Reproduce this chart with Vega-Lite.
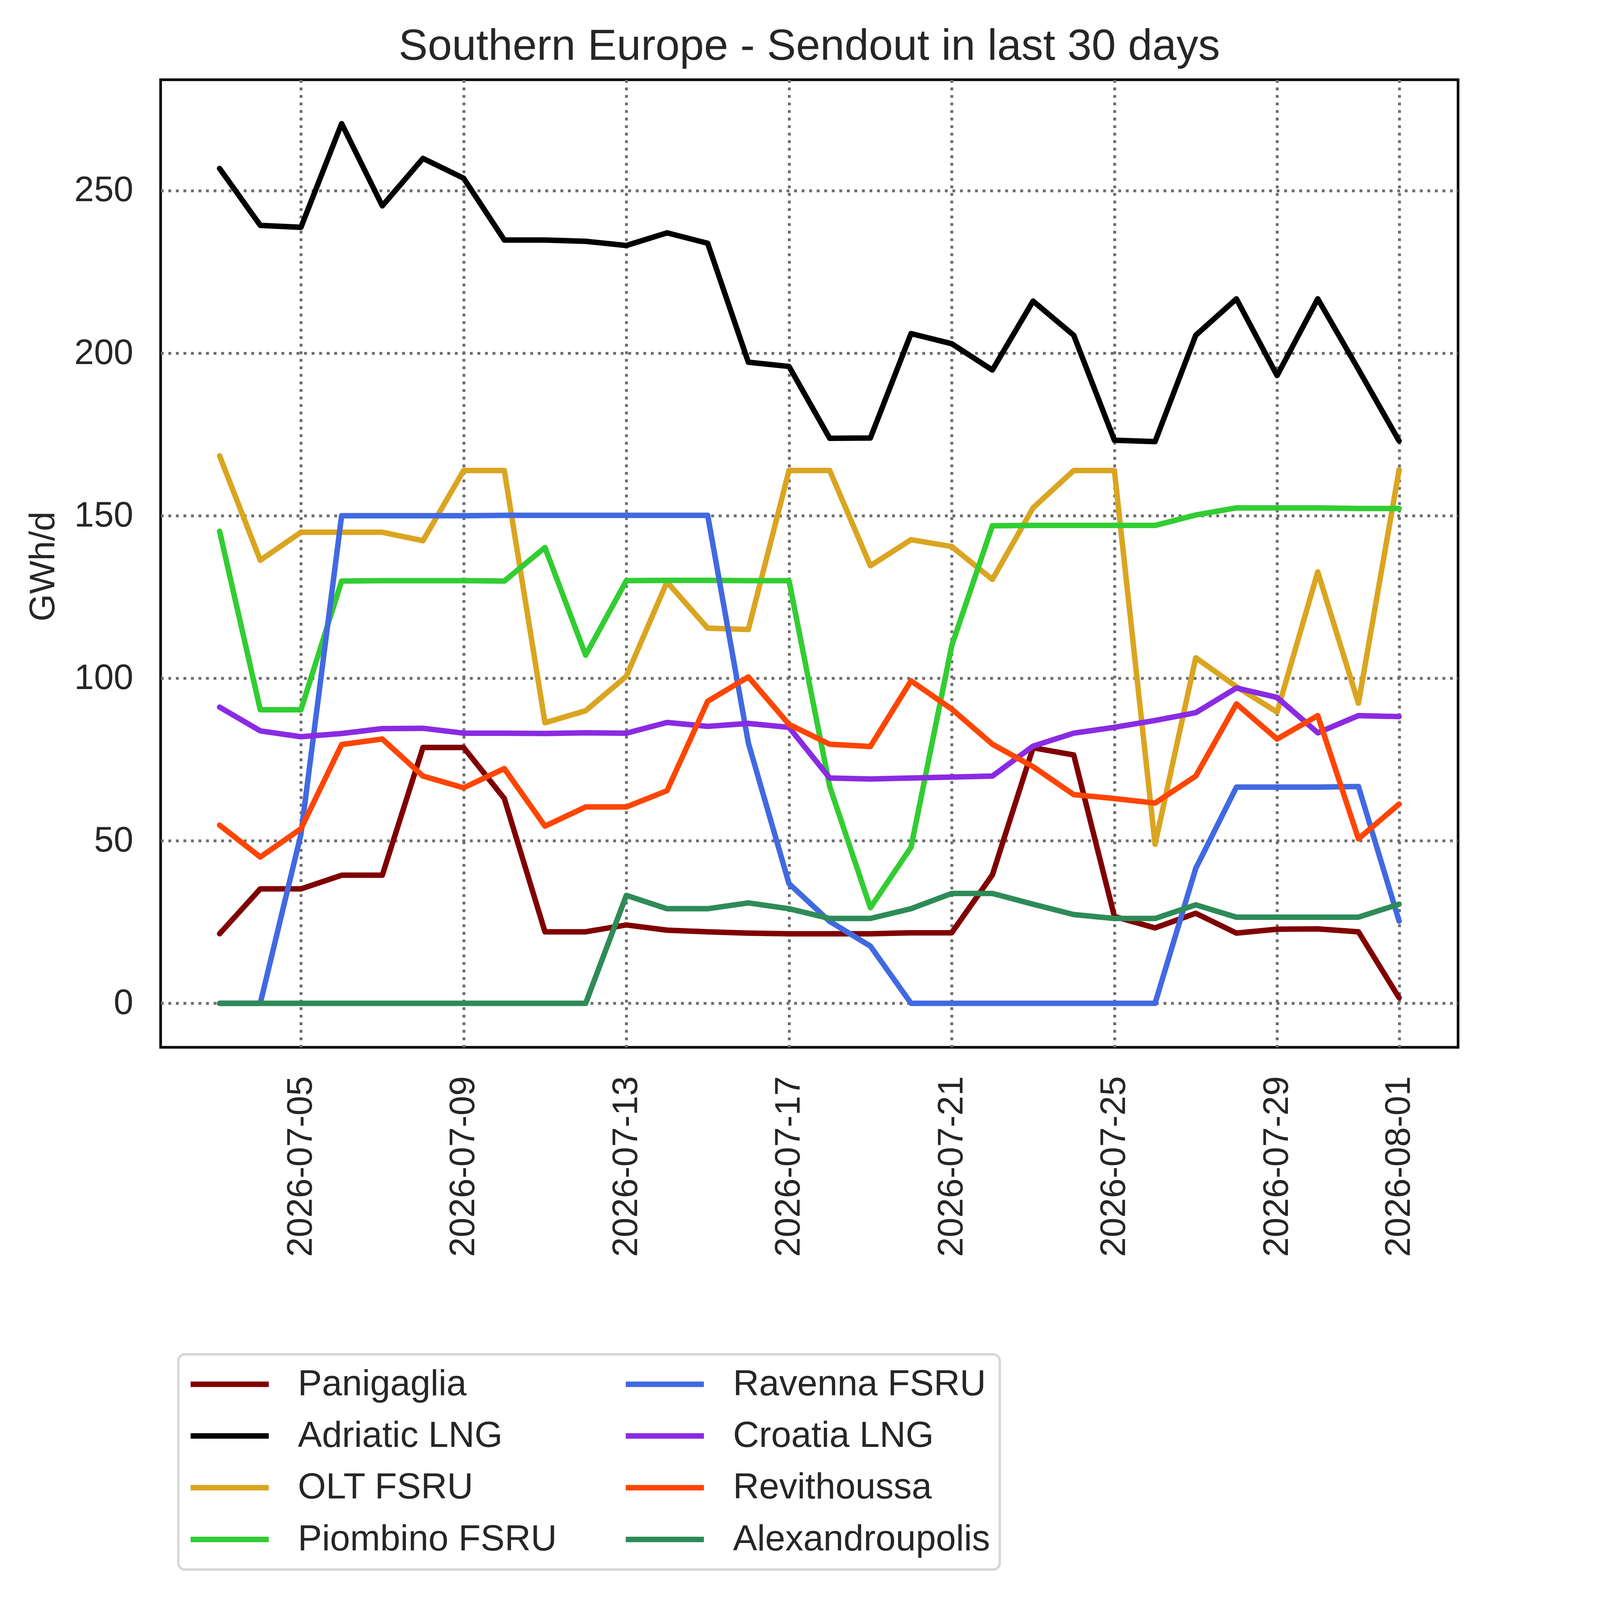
{
  "$schema": "https://vega.github.io/schema/vega-lite/v6.json",
  "description": "Southern Europe LNG terminals - sendout in last 30 days",
  "width": 3321.5,
  "height": 2477,
  "autosize": {"type": "none"},
  "padding": {"left": 411.2, "top": 204.1, "right": 68.4, "bottom": 1415.5},
  "background": "white",
  "title": {
    "text": "Southern Europe - Sendout in last 30 days",
    "font": "Liberation Sans",
    "fontSize": 111.6,
    "fontWeight": "normal",
    "color": "#262626",
    "anchor": "middle",
    "frame": "group",
    "baseline": "alphabetic",
    "offset": -60.3
  },
  "data": {
    "values": [
      {"date": "2026-07-03", "terminal": "Panigaglia", "gwh": 21.4},
      {"date": "2026-07-04", "terminal": "Panigaglia", "gwh": 35.2},
      {"date": "2026-07-05", "terminal": "Panigaglia", "gwh": 35.2},
      {"date": "2026-07-06", "terminal": "Panigaglia", "gwh": 39.4},
      {"date": "2026-07-07", "terminal": "Panigaglia", "gwh": 39.4},
      {"date": "2026-07-08", "terminal": "Panigaglia", "gwh": 78.7},
      {"date": "2026-07-09", "terminal": "Panigaglia", "gwh": 78.7},
      {"date": "2026-07-10", "terminal": "Panigaglia", "gwh": 63.0},
      {"date": "2026-07-11", "terminal": "Panigaglia", "gwh": 22.0},
      {"date": "2026-07-12", "terminal": "Panigaglia", "gwh": 22.0},
      {"date": "2026-07-13", "terminal": "Panigaglia", "gwh": 24.1},
      {"date": "2026-07-14", "terminal": "Panigaglia", "gwh": 22.5},
      {"date": "2026-07-15", "terminal": "Panigaglia", "gwh": 22.0},
      {"date": "2026-07-16", "terminal": "Panigaglia", "gwh": 21.6},
      {"date": "2026-07-17", "terminal": "Panigaglia", "gwh": 21.4},
      {"date": "2026-07-18", "terminal": "Panigaglia", "gwh": 21.4},
      {"date": "2026-07-19", "terminal": "Panigaglia", "gwh": 21.4},
      {"date": "2026-07-20", "terminal": "Panigaglia", "gwh": 21.7},
      {"date": "2026-07-21", "terminal": "Panigaglia", "gwh": 21.7},
      {"date": "2026-07-22", "terminal": "Panigaglia", "gwh": 39.5},
      {"date": "2026-07-23", "terminal": "Panigaglia", "gwh": 78.6},
      {"date": "2026-07-24", "terminal": "Panigaglia", "gwh": 76.4},
      {"date": "2026-07-25", "terminal": "Panigaglia", "gwh": 26.7},
      {"date": "2026-07-26", "terminal": "Panigaglia", "gwh": 23.2},
      {"date": "2026-07-27", "terminal": "Panigaglia", "gwh": 27.7},
      {"date": "2026-07-28", "terminal": "Panigaglia", "gwh": 21.6},
      {"date": "2026-07-29", "terminal": "Panigaglia", "gwh": 22.8},
      {"date": "2026-07-30", "terminal": "Panigaglia", "gwh": 22.9},
      {"date": "2026-07-31", "terminal": "Panigaglia", "gwh": 22.0},
      {"date": "2026-08-01", "terminal": "Panigaglia", "gwh": 1.7},

      {"date": "2026-07-03", "terminal": "Adriatic LNG", "gwh": 256.8},
      {"date": "2026-07-04", "terminal": "Adriatic LNG", "gwh": 239.3},
      {"date": "2026-07-05", "terminal": "Adriatic LNG", "gwh": 238.7},
      {"date": "2026-07-06", "terminal": "Adriatic LNG", "gwh": 270.6},
      {"date": "2026-07-07", "terminal": "Adriatic LNG", "gwh": 245.3},
      {"date": "2026-07-08", "terminal": "Adriatic LNG", "gwh": 259.9},
      {"date": "2026-07-09", "terminal": "Adriatic LNG", "gwh": 253.8},
      {"date": "2026-07-10", "terminal": "Adriatic LNG", "gwh": 234.8},
      {"date": "2026-07-11", "terminal": "Adriatic LNG", "gwh": 234.8},
      {"date": "2026-07-12", "terminal": "Adriatic LNG", "gwh": 234.4},
      {"date": "2026-07-13", "terminal": "Adriatic LNG", "gwh": 233.1},
      {"date": "2026-07-14", "terminal": "Adriatic LNG", "gwh": 237.0},
      {"date": "2026-07-15", "terminal": "Adriatic LNG", "gwh": 233.8},
      {"date": "2026-07-16", "terminal": "Adriatic LNG", "gwh": 197.2},
      {"date": "2026-07-17", "terminal": "Adriatic LNG", "gwh": 195.9},
      {"date": "2026-07-18", "terminal": "Adriatic LNG", "gwh": 173.8},
      {"date": "2026-07-19", "terminal": "Adriatic LNG", "gwh": 173.9},
      {"date": "2026-07-20", "terminal": "Adriatic LNG", "gwh": 206.0},
      {"date": "2026-07-21", "terminal": "Adriatic LNG", "gwh": 202.9},
      {"date": "2026-07-22", "terminal": "Adriatic LNG", "gwh": 194.8},
      {"date": "2026-07-23", "terminal": "Adriatic LNG", "gwh": 216.0},
      {"date": "2026-07-24", "terminal": "Adriatic LNG", "gwh": 205.5},
      {"date": "2026-07-25", "terminal": "Adriatic LNG", "gwh": 173.2},
      {"date": "2026-07-26", "terminal": "Adriatic LNG", "gwh": 172.8},
      {"date": "2026-07-27", "terminal": "Adriatic LNG", "gwh": 205.5},
      {"date": "2026-07-28", "terminal": "Adriatic LNG", "gwh": 216.7},
      {"date": "2026-07-29", "terminal": "Adriatic LNG", "gwh": 193.1},
      {"date": "2026-07-30", "terminal": "Adriatic LNG", "gwh": 216.7},
      {"date": "2026-07-31", "terminal": "Adriatic LNG", "gwh": 195.0},
      {"date": "2026-08-01", "terminal": "Adriatic LNG", "gwh": 173.0},

      {"date": "2026-07-03", "terminal": "OLT FSRU", "gwh": 168.4},
      {"date": "2026-07-04", "terminal": "OLT FSRU", "gwh": 136.3},
      {"date": "2026-07-05", "terminal": "OLT FSRU", "gwh": 144.9},
      {"date": "2026-07-06", "terminal": "OLT FSRU", "gwh": 144.9},
      {"date": "2026-07-07", "terminal": "OLT FSRU", "gwh": 144.9},
      {"date": "2026-07-08", "terminal": "OLT FSRU", "gwh": 142.3},
      {"date": "2026-07-09", "terminal": "OLT FSRU", "gwh": 163.9},
      {"date": "2026-07-10", "terminal": "OLT FSRU", "gwh": 163.9},
      {"date": "2026-07-11", "terminal": "OLT FSRU", "gwh": 86.3},
      {"date": "2026-07-12", "terminal": "OLT FSRU", "gwh": 90.0},
      {"date": "2026-07-13", "terminal": "OLT FSRU", "gwh": 100.6},
      {"date": "2026-07-14", "terminal": "OLT FSRU", "gwh": 129.6},
      {"date": "2026-07-15", "terminal": "OLT FSRU", "gwh": 115.4},
      {"date": "2026-07-16", "terminal": "OLT FSRU", "gwh": 115.0},
      {"date": "2026-07-17", "terminal": "OLT FSRU", "gwh": 163.9},
      {"date": "2026-07-18", "terminal": "OLT FSRU", "gwh": 163.9},
      {"date": "2026-07-19", "terminal": "OLT FSRU", "gwh": 134.6},
      {"date": "2026-07-20", "terminal": "OLT FSRU", "gwh": 142.6},
      {"date": "2026-07-21", "terminal": "OLT FSRU", "gwh": 140.5},
      {"date": "2026-07-22", "terminal": "OLT FSRU", "gwh": 130.4},
      {"date": "2026-07-23", "terminal": "OLT FSRU", "gwh": 152.4},
      {"date": "2026-07-24", "terminal": "OLT FSRU", "gwh": 163.9},
      {"date": "2026-07-25", "terminal": "OLT FSRU", "gwh": 163.9},
      {"date": "2026-07-26", "terminal": "OLT FSRU", "gwh": 48.9},
      {"date": "2026-07-27", "terminal": "OLT FSRU", "gwh": 106.3},
      {"date": "2026-07-28", "terminal": "OLT FSRU", "gwh": 97.4},
      {"date": "2026-07-29", "terminal": "OLT FSRU", "gwh": 89.6},
      {"date": "2026-07-30", "terminal": "OLT FSRU", "gwh": 132.7},
      {"date": "2026-07-31", "terminal": "OLT FSRU", "gwh": 92.3},
      {"date": "2026-08-01", "terminal": "OLT FSRU", "gwh": 164.1},

      {"date": "2026-07-03", "terminal": "Piombino FSRU", "gwh": 145.2},
      {"date": "2026-07-04", "terminal": "Piombino FSRU", "gwh": 90.3},
      {"date": "2026-07-05", "terminal": "Piombino FSRU", "gwh": 90.3},
      {"date": "2026-07-06", "terminal": "Piombino FSRU", "gwh": 129.9},
      {"date": "2026-07-07", "terminal": "Piombino FSRU", "gwh": 130.0},
      {"date": "2026-07-08", "terminal": "Piombino FSRU", "gwh": 130.0},
      {"date": "2026-07-09", "terminal": "Piombino FSRU", "gwh": 130.0},
      {"date": "2026-07-10", "terminal": "Piombino FSRU", "gwh": 129.9},
      {"date": "2026-07-11", "terminal": "Piombino FSRU", "gwh": 140.2},
      {"date": "2026-07-12", "terminal": "Piombino FSRU", "gwh": 107.1},
      {"date": "2026-07-13", "terminal": "Piombino FSRU", "gwh": 130.0},
      {"date": "2026-07-14", "terminal": "Piombino FSRU", "gwh": 130.1},
      {"date": "2026-07-15", "terminal": "Piombino FSRU", "gwh": 130.1},
      {"date": "2026-07-16", "terminal": "Piombino FSRU", "gwh": 130.0},
      {"date": "2026-07-17", "terminal": "Piombino FSRU", "gwh": 130.0},
      {"date": "2026-07-18", "terminal": "Piombino FSRU", "gwh": 66.7},
      {"date": "2026-07-19", "terminal": "Piombino FSRU", "gwh": 29.4},
      {"date": "2026-07-20", "terminal": "Piombino FSRU", "gwh": 48.0},
      {"date": "2026-07-21", "terminal": "Piombino FSRU", "gwh": 110.0},
      {"date": "2026-07-22", "terminal": "Piombino FSRU", "gwh": 146.9},
      {"date": "2026-07-23", "terminal": "Piombino FSRU", "gwh": 147.0},
      {"date": "2026-07-24", "terminal": "Piombino FSRU", "gwh": 147.0},
      {"date": "2026-07-25", "terminal": "Piombino FSRU", "gwh": 147.0},
      {"date": "2026-07-26", "terminal": "Piombino FSRU", "gwh": 147.0},
      {"date": "2026-07-27", "terminal": "Piombino FSRU", "gwh": 150.2},
      {"date": "2026-07-28", "terminal": "Piombino FSRU", "gwh": 152.4},
      {"date": "2026-07-29", "terminal": "Piombino FSRU", "gwh": 152.4},
      {"date": "2026-07-30", "terminal": "Piombino FSRU", "gwh": 152.4},
      {"date": "2026-07-31", "terminal": "Piombino FSRU", "gwh": 152.2},
      {"date": "2026-08-01", "terminal": "Piombino FSRU", "gwh": 152.2},

      {"date": "2026-07-03", "terminal": "Ravenna FSRU", "gwh": 0},
      {"date": "2026-07-04", "terminal": "Ravenna FSRU", "gwh": 0},
      {"date": "2026-07-05", "terminal": "Ravenna FSRU", "gwh": 52.0},
      {"date": "2026-07-06", "terminal": "Ravenna FSRU", "gwh": 150.0},
      {"date": "2026-07-07", "terminal": "Ravenna FSRU", "gwh": 150.0},
      {"date": "2026-07-08", "terminal": "Ravenna FSRU", "gwh": 150.0},
      {"date": "2026-07-09", "terminal": "Ravenna FSRU", "gwh": 150.0},
      {"date": "2026-07-10", "terminal": "Ravenna FSRU", "gwh": 150.1},
      {"date": "2026-07-11", "terminal": "Ravenna FSRU", "gwh": 150.1},
      {"date": "2026-07-12", "terminal": "Ravenna FSRU", "gwh": 150.1},
      {"date": "2026-07-13", "terminal": "Ravenna FSRU", "gwh": 150.1},
      {"date": "2026-07-14", "terminal": "Ravenna FSRU", "gwh": 150.1},
      {"date": "2026-07-15", "terminal": "Ravenna FSRU", "gwh": 150.1},
      {"date": "2026-07-16", "terminal": "Ravenna FSRU", "gwh": 80.1},
      {"date": "2026-07-17", "terminal": "Ravenna FSRU", "gwh": 36.8},
      {"date": "2026-07-18", "terminal": "Ravenna FSRU", "gwh": 25.2},
      {"date": "2026-07-19", "terminal": "Ravenna FSRU", "gwh": 17.6},
      {"date": "2026-07-20", "terminal": "Ravenna FSRU", "gwh": 0},
      {"date": "2026-07-21", "terminal": "Ravenna FSRU", "gwh": 0},
      {"date": "2026-07-22", "terminal": "Ravenna FSRU", "gwh": 0},
      {"date": "2026-07-23", "terminal": "Ravenna FSRU", "gwh": 0},
      {"date": "2026-07-24", "terminal": "Ravenna FSRU", "gwh": 0},
      {"date": "2026-07-25", "terminal": "Ravenna FSRU", "gwh": 0},
      {"date": "2026-07-26", "terminal": "Ravenna FSRU", "gwh": 0},
      {"date": "2026-07-27", "terminal": "Ravenna FSRU", "gwh": 41.5},
      {"date": "2026-07-28", "terminal": "Ravenna FSRU", "gwh": 66.5},
      {"date": "2026-07-29", "terminal": "Ravenna FSRU", "gwh": 66.5},
      {"date": "2026-07-30", "terminal": "Ravenna FSRU", "gwh": 66.5},
      {"date": "2026-07-31", "terminal": "Ravenna FSRU", "gwh": 66.7},
      {"date": "2026-08-01", "terminal": "Ravenna FSRU", "gwh": 25.3},

      {"date": "2026-07-03", "terminal": "Croatia LNG", "gwh": 91.1},
      {"date": "2026-07-04", "terminal": "Croatia LNG", "gwh": 83.8},
      {"date": "2026-07-05", "terminal": "Croatia LNG", "gwh": 82.0},
      {"date": "2026-07-06", "terminal": "Croatia LNG", "gwh": 83.0},
      {"date": "2026-07-07", "terminal": "Croatia LNG", "gwh": 84.5},
      {"date": "2026-07-08", "terminal": "Croatia LNG", "gwh": 84.6},
      {"date": "2026-07-09", "terminal": "Croatia LNG", "gwh": 83.1},
      {"date": "2026-07-10", "terminal": "Croatia LNG", "gwh": 83.1},
      {"date": "2026-07-11", "terminal": "Croatia LNG", "gwh": 83.0},
      {"date": "2026-07-12", "terminal": "Croatia LNG", "gwh": 83.2},
      {"date": "2026-07-13", "terminal": "Croatia LNG", "gwh": 83.1},
      {"date": "2026-07-14", "terminal": "Croatia LNG", "gwh": 86.4},
      {"date": "2026-07-15", "terminal": "Croatia LNG", "gwh": 85.2},
      {"date": "2026-07-16", "terminal": "Croatia LNG", "gwh": 86.1},
      {"date": "2026-07-17", "terminal": "Croatia LNG", "gwh": 84.9},
      {"date": "2026-07-18", "terminal": "Croatia LNG", "gwh": 69.3},
      {"date": "2026-07-19", "terminal": "Croatia LNG", "gwh": 69.0},
      {"date": "2026-07-20", "terminal": "Croatia LNG", "gwh": 69.3},
      {"date": "2026-07-21", "terminal": "Croatia LNG", "gwh": 69.6},
      {"date": "2026-07-22", "terminal": "Croatia LNG", "gwh": 69.9},
      {"date": "2026-07-23", "terminal": "Croatia LNG", "gwh": 79.1},
      {"date": "2026-07-24", "terminal": "Croatia LNG", "gwh": 83.1},
      {"date": "2026-07-25", "terminal": "Croatia LNG", "gwh": 84.9},
      {"date": "2026-07-26", "terminal": "Croatia LNG", "gwh": 87.0},
      {"date": "2026-07-27", "terminal": "Croatia LNG", "gwh": 89.4},
      {"date": "2026-07-28", "terminal": "Croatia LNG", "gwh": 97.0},
      {"date": "2026-07-29", "terminal": "Croatia LNG", "gwh": 94.1},
      {"date": "2026-07-30", "terminal": "Croatia LNG", "gwh": 83.2},
      {"date": "2026-07-31", "terminal": "Croatia LNG", "gwh": 88.5},
      {"date": "2026-08-01", "terminal": "Croatia LNG", "gwh": 88.2},

      {"date": "2026-07-03", "terminal": "Revithoussa", "gwh": 54.8},
      {"date": "2026-07-04", "terminal": "Revithoussa", "gwh": 45.0},
      {"date": "2026-07-05", "terminal": "Revithoussa", "gwh": 53.7},
      {"date": "2026-07-06", "terminal": "Revithoussa", "gwh": 79.6},
      {"date": "2026-07-07", "terminal": "Revithoussa", "gwh": 81.3},
      {"date": "2026-07-08", "terminal": "Revithoussa", "gwh": 69.9},
      {"date": "2026-07-09", "terminal": "Revithoussa", "gwh": 66.3},
      {"date": "2026-07-10", "terminal": "Revithoussa", "gwh": 72.2},
      {"date": "2026-07-11", "terminal": "Revithoussa", "gwh": 54.5},
      {"date": "2026-07-12", "terminal": "Revithoussa", "gwh": 60.4},
      {"date": "2026-07-13", "terminal": "Revithoussa", "gwh": 60.4},
      {"date": "2026-07-14", "terminal": "Revithoussa", "gwh": 65.4},
      {"date": "2026-07-15", "terminal": "Revithoussa", "gwh": 92.9},
      {"date": "2026-07-16", "terminal": "Revithoussa", "gwh": 100.4},
      {"date": "2026-07-17", "terminal": "Revithoussa", "gwh": 85.8},
      {"date": "2026-07-18", "terminal": "Revithoussa", "gwh": 79.7},
      {"date": "2026-07-19", "terminal": "Revithoussa", "gwh": 79.0},
      {"date": "2026-07-20", "terminal": "Revithoussa", "gwh": 99.2},
      {"date": "2026-07-21", "terminal": "Revithoussa", "gwh": 90.5},
      {"date": "2026-07-22", "terminal": "Revithoussa", "gwh": 79.7},
      {"date": "2026-07-23", "terminal": "Revithoussa", "gwh": 72.8},
      {"date": "2026-07-24", "terminal": "Revithoussa", "gwh": 64.2},
      {"date": "2026-07-25", "terminal": "Revithoussa", "gwh": 63.0},
      {"date": "2026-07-26", "terminal": "Revithoussa", "gwh": 61.6},
      {"date": "2026-07-27", "terminal": "Revithoussa", "gwh": 69.9},
      {"date": "2026-07-28", "terminal": "Revithoussa", "gwh": 92.1},
      {"date": "2026-07-29", "terminal": "Revithoussa", "gwh": 81.3},
      {"date": "2026-07-30", "terminal": "Revithoussa", "gwh": 88.5},
      {"date": "2026-07-31", "terminal": "Revithoussa", "gwh": 50.6},
      {"date": "2026-08-01", "terminal": "Revithoussa", "gwh": 61.3},

      {"date": "2026-07-03", "terminal": "Alexandroupolis", "gwh": 0},
      {"date": "2026-07-04", "terminal": "Alexandroupolis", "gwh": 0},
      {"date": "2026-07-05", "terminal": "Alexandroupolis", "gwh": 0},
      {"date": "2026-07-06", "terminal": "Alexandroupolis", "gwh": 0},
      {"date": "2026-07-07", "terminal": "Alexandroupolis", "gwh": 0},
      {"date": "2026-07-08", "terminal": "Alexandroupolis", "gwh": 0},
      {"date": "2026-07-09", "terminal": "Alexandroupolis", "gwh": 0},
      {"date": "2026-07-10", "terminal": "Alexandroupolis", "gwh": 0},
      {"date": "2026-07-11", "terminal": "Alexandroupolis", "gwh": 0},
      {"date": "2026-07-12", "terminal": "Alexandroupolis", "gwh": 0},
      {"date": "2026-07-13", "terminal": "Alexandroupolis", "gwh": 33.2},
      {"date": "2026-07-14", "terminal": "Alexandroupolis", "gwh": 29.1},
      {"date": "2026-07-15", "terminal": "Alexandroupolis", "gwh": 29.1},
      {"date": "2026-07-16", "terminal": "Alexandroupolis", "gwh": 30.9},
      {"date": "2026-07-17", "terminal": "Alexandroupolis", "gwh": 29.1},
      {"date": "2026-07-18", "terminal": "Alexandroupolis", "gwh": 26.1},
      {"date": "2026-07-19", "terminal": "Alexandroupolis", "gwh": 26.1},
      {"date": "2026-07-20", "terminal": "Alexandroupolis", "gwh": 29.1},
      {"date": "2026-07-21", "terminal": "Alexandroupolis", "gwh": 33.8},
      {"date": "2026-07-22", "terminal": "Alexandroupolis", "gwh": 33.8},
      {"date": "2026-07-23", "terminal": "Alexandroupolis", "gwh": 30.5},
      {"date": "2026-07-24", "terminal": "Alexandroupolis", "gwh": 27.3},
      {"date": "2026-07-25", "terminal": "Alexandroupolis", "gwh": 26.1},
      {"date": "2026-07-26", "terminal": "Alexandroupolis", "gwh": 26.1},
      {"date": "2026-07-27", "terminal": "Alexandroupolis", "gwh": 30.3},
      {"date": "2026-07-28", "terminal": "Alexandroupolis", "gwh": 26.5},
      {"date": "2026-07-29", "terminal": "Alexandroupolis", "gwh": 26.5},
      {"date": "2026-07-30", "terminal": "Alexandroupolis", "gwh": 26.5},
      {"date": "2026-07-31", "terminal": "Alexandroupolis", "gwh": 26.5},
      {"date": "2026-08-01", "terminal": "Alexandroupolis", "gwh": 30.5}
    ]
  },
  "mark": {"type": "line", "strokeWidth": 14, "strokeJoin": "round", "strokeCap": "round"},
  "encoding": {
    "x": {
      "field": "date",
      "type": "temporal",
      "scale": {
        "type": "utc",
        "domain": [
          {"year": 2026, "month": 7, "date": 1, "hours": 13, "minutes": 12, "utc": true},
          {"year": 2026, "month": 8, "date": 2, "hours": 10, "minutes": 48, "utc": true}
        ]
      },
      "axis": {
        "title": null,
        "values": [
          {"year": 2026, "month": 7, "date": 5, "utc": true},
          {"year": 2026, "month": 7, "date": 9, "utc": true},
          {"year": 2026, "month": 7, "date": 13, "utc": true},
          {"year": 2026, "month": 7, "date": 17, "utc": true},
          {"year": 2026, "month": 7, "date": 21, "utc": true},
          {"year": 2026, "month": 7, "date": 25, "utc": true},
          {"year": 2026, "month": 7, "date": 29, "utc": true},
          {"year": 2026, "month": 8, "date": 1, "utc": true}
        ],
        "format": "%Y-%m-%d",
        "labelAngle": 270,
        "labelAlign": "right",
        "labelBaseline": "middle",
        "labelPadding": 73.4
      }
    },
    "y": {
      "field": "gwh",
      "type": "quantitative",
      "scale": {"domain": [-13.53, 284.1], "nice": false, "zero": false},
      "axis": {
        "title": "GWh/d",
        "values": [0, 50, 100, 150, 200, 250],
        "labelPadding": 70.4,
        "titleAngle": 270,
        "titleAlign": "center",
        "titleBaseline": "alphabetic",
        "titleX": -272.4,
        "titleY": 1245.6
      }
    },
    "color": {
      "field": "terminal",
      "type": "nominal",
      "scale": {
        "domain": ["Panigaglia", "Adriatic LNG", "OLT FSRU", "Piombino FSRU", "Ravenna FSRU", "Croatia LNG", "Revithoussa", "Alexandroupolis"],
        "range": ["#800000", "#000000", "#daa520", "#32cd32", "#4169e1", "#8a2be2", "#ff4500", "#2e8b57"]
      },
      "legend": {
        "title": null,
        "orient": "none",
        "legendX": 45.2,
        "legendY": 3263,
        "columns": 2,
        "symbolType": "stroke",
        "symbolSize": 40021,
        "symbolStrokeWidth": 14,
        "clipHeight": 104.5,
        "rowPadding": 27.5,
        "columnPadding": 168,
        "labelOffset": 67,
        "labelFont": "Liberation Sans",
        "labelFontSize": 92.5,
        "labelLimit": 2000,
        "labelColor": "#262626",
        "padding": 24.1,
        "strokeColor": "#d6d6d6",
        "fillColor": "white",
        "cornerRadius": 17
      }
    }
  },
  "config": {
    "font": "Liberation Sans",
    "view": {"stroke": "#000000", "strokeWidth": 6.7, "fill": "white"},
    "legend": {"strokeWidth": 6},
    "axis": {
      "labelFont": "Liberation Sans",
      "labelFontSize": 90.5,
      "labelColor": "#262626",
      "labelLimit": 2000,
      "titleFont": "Liberation Sans",
      "titleFontSize": 90.5,
      "titleFontWeight": "normal",
      "titleColor": "#262626",
      "domain": false,
      "ticks": false,
      "grid": true,
      "gridColor": "#6e6e6e",
      "gridDash": [7.3, 12],
      "gridWidth": 7.3,
      "gridOpacity": 1
    }
  }
}
